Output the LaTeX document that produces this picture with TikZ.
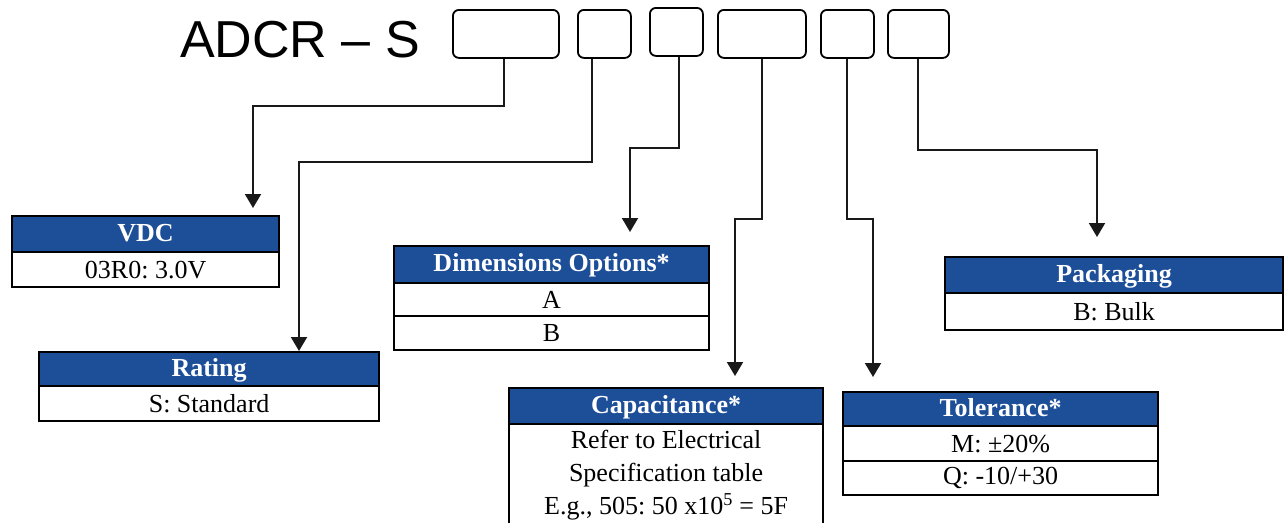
\documentclass[tikz,border=0pt]{standalone}
\usepackage{fontspec}
\setmainfont{Liberation Serif}
\newfontfamily\titlesans{Liberation Sans}
\usetikzlibrary{arrows.meta,calc}
\definecolor{hblue}{RGB}{29,78,152}
\frenchspacing
\begin{document}
\begin{tikzpicture}[x=1pt,y=-1pt,
  codebox/.style={draw=black, rounded corners=6pt, line width=1.8pt, minimum height=48pt, inner sep=0pt, anchor=north west},
  hdr/.style={draw=black, fill=hblue, text=white, line width=2.2pt, inner sep=0pt, anchor=north west,
    text height=18pt, text depth=4pt, font=\bfseries\fontsize{26}{30}\selectfont},
  cell/.style={draw=black, fill=white, line width=2.2pt, inner sep=0pt, anchor=north west,
    font=\fontsize{26}{33}\selectfont, align=center},
  conn/.style={draw=black!90, line width=2pt, -{Triangle[width=16pt,length=14pt]}}]
\useasboundingbox (0,0) rectangle (1287,522);

% title
\node[font=\titlesans\fontsize{52}{60}\selectfont, anchor=base west, inner sep=0pt] (title) at (180,57) {ADCR – S};

% code boxes
\node[codebox, minimum width=106pt] (b1) at (452,9) {};
\node[codebox, minimum width=53pt] (b2) at (577,9) {};
\node[codebox, minimum width=53pt] (b3) at (649,7) {};
\node[codebox, minimum width=88pt] (b4) at (717,9) {};
\node[codebox, minimum width=53pt] (b5) at (820,9) {};
\node[codebox, minimum width=61pt] (b6) at (887,9) {};

% VDC
\node[hdr, minimum width=267pt, minimum height=36pt] (vdc) at (11,215) {VDC};
\node[cell, minimum width=267pt, minimum height=35pt] (vdc1) at (11,251) {03R0: 3.0V};

% Rating
\node[hdr, minimum width=340pt, minimum height=34pt] (rat) at (38,351) {Rating};
\node[cell, minimum width=340pt, minimum height=35pt] (rat1) at (38,385) {S: Standard};

% Dimensions
\node[hdr, minimum width=315pt, minimum height=37pt] (dim) at (393,245) {Dimensions Options*};
\node[cell, minimum width=315pt, minimum height=33pt] (dim1) at (393,282) {A};
\node[cell, minimum width=315pt, minimum height=34pt] (dim2) at (393,315) {B};

% Capacitance
\node[hdr, minimum width=314pt, minimum height=36pt] (cap) at (508,387) {Capacitance*};
\node[cell, minimum width=314pt, minimum height=102pt] (cap1) at (508,423)
  {Refer to Electrical\\Specification table\\E.g., 505: 50 x10\textsuperscript{5} = 5F};

% Tolerance
\node[hdr, minimum width=315pt, minimum height=34pt] (tol) at (842,391) {Tolerance*};
\node[cell, minimum width=315pt, minimum height=35pt] (tol1) at (842,425) {M: ±20\%};
\node[cell, minimum width=315pt, minimum height=34pt] (tol2) at (842,460) {Q: -10/+30};

% Packaging
\node[hdr, minimum width=338pt, minimum height=36pt] (pkg) at (944,256) {Packaging};
\node[cell, minimum width=338pt, minimum height=37pt] (pkg1) at (944,292) {B: Bulk};

% connectors
\draw[conn] ([xshift=-2pt]b1.south) -- ++(0,47) -| ($(vdc.north west)+(242,-7)$);
\draw[conn] ([xshift=-12.5pt]b2.south) -- ++(0,103) -| ($(rat.north west)+(261,0)$);
\draw[conn] ([xshift=2.5pt]b3.south) -- ++(0,91) -| ($(dim.north west)+(237,-13)$);
\draw[conn] (b4.south) -- ++(0,160) -| ($(cap.north west)+(227,-11)$);
\draw[conn] (b5.south) -- ++(0,160) -| ($(tol.north west)+(31,-14)$);
\draw[conn] (b6.south) -- ++(0,91) -| ($(pkg.north west)+(153,-19)$);
\end{tikzpicture}
\end{document}
